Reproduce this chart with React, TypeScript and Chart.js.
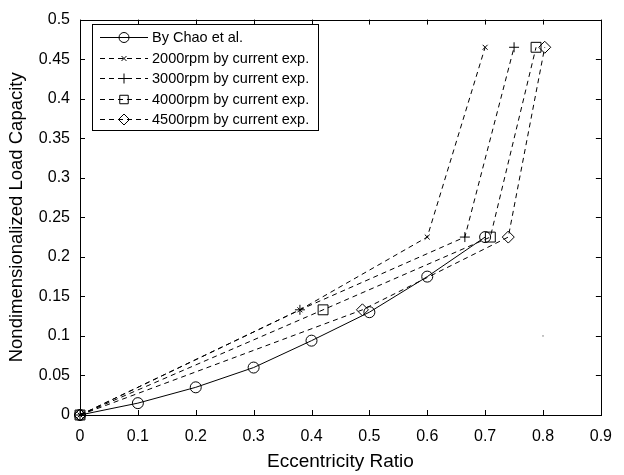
import React, { useEffect, useRef } from 'react';
import { Chart, registerables } from 'chart.js';
import { drawPoint } from 'chart.js/helpers';

Chart.register(...registerables);

const FONT = '"Liberation Sans", Arial, Helvetica, sans-serif';

const seriesLabels = [
  'By Chao et al.',
  '2000rpm by current exp.',
  '3000rpm by current exp.',
  '4000rpm by current exp.',
  '4500rpm by current exp.',
];

const chaoX = [0, 0.1, 0.2, 0.3, 0.4, 0.5, 0.6, 0.7];
const chaoY = [0, 0.015, 0.035, 0.06, 0.094, 0.13, 0.175, 0.225];

const rpm2000X = [0, 0.38, 0.6, 0.7];
const rpm2000Y = [0, 0.133, 0.225, 0.465];

const rpm3000X = [0, 0.38, 0.665, 0.75];
const rpm3000Y = [0, 0.133, 0.225, 0.465];

const rpm4000X = [0, 0.42, 0.709, 0.788];
const rpm4000Y = [0, 0.133, 0.225, 0.465];

const rpm4500X = [0, 0.488, 0.74, 0.803];
const rpm4500Y = [0, 0.133, 0.225, 0.465];

const strayX = [0.8];
const strayY = [0.1];

const xTickValues = [0, 0.1, 0.2, 0.3, 0.4, 0.5, 0.6, 0.7, 0.8, 0.9];
const yTickValues = [0, 0.05, 0.1, 0.15, 0.2, 0.25, 0.3, 0.35, 0.4, 0.45, 0.5];

const pts = (xs: number[], ys: number[]) => xs.map((x, i) => ({ x, y: ys[i] }));
const fmt = (v: number) => String(Number(Number(v).toFixed(2)));

const styles = [
  { pointStyle: 'circle', radius: 5.5, legendRadius: 5, dash: [] as number[] },
  { pointStyle: 'crossRot', radius: 3.5, legendRadius: 3.5, dash: [5, 4] },
  { pointStyle: 'cross', radius: 5, legendRadius: 5, dash: [5, 4] },
  { pointStyle: 'rect', radius: 7, legendRadius: 6, dash: [5, 4] },
  { pointStyle: 'rectRot', radius: 6, legendRadius: 5.5, dash: [5, 4] },
];

const framePlugin = {
  id: 'frameAndLegend',
  afterDraw(chart: any) {
    const { ctx, chartArea } = chart;
    const { left, right, top, bottom } = chartArea;
    const xs = chart.scales.x;
    const ys = chart.scales.y;
    ctx.save();
    ctx.strokeStyle = '#000';
    ctx.lineWidth = 1;
    ctx.setLineDash([]);
    ctx.strokeRect(Math.round(left) + 0.5, Math.round(top) + 0.5, Math.round(right - left), Math.round(bottom - top));
    const tl = 5;
    ctx.beginPath();
    xTickValues.forEach((v) => {
      const px = Math.round(xs.getPixelForValue(v)) + 0.5;
      ctx.moveTo(px, bottom);
      ctx.lineTo(px, bottom - tl);
      ctx.moveTo(px, top);
      ctx.lineTo(px, top + tl);
    });
    yTickValues.forEach((v) => {
      const py = Math.round(ys.getPixelForValue(v)) + 0.5;
      ctx.moveTo(left, py);
      ctx.lineTo(left + tl, py);
      ctx.moveTo(right, py);
      ctx.lineTo(right - tl, py);
    });
    ctx.stroke();

    const bx = 92.5, by = 24.5, bw = 226, bh = 106;
    ctx.fillStyle = '#fff';
    ctx.fillRect(bx, by, bw, bh);
    ctx.strokeRect(bx, by, bw, bh);
    ctx.font = `14.5px ${FONT}`;
    ctx.textBaseline = 'middle';
    ctx.textAlign = 'left';
    seriesLabels.forEach((label, i) => {
      const y = Math.round(37 + i * 20.5) + 0.5;
      const st = styles[i];
      ctx.setLineDash(st.dash);
      ctx.beginPath();
      ctx.moveTo(100, y);
      ctx.lineTo(148, y);
      ctx.stroke();
      ctx.setLineDash([]);
      ctx.fillStyle = 'rgba(0,0,0,0)';
      drawPoint(ctx, { pointStyle: st.pointStyle, radius: st.legendRadius, rotation: 0, borderWidth: 1 } as any, 124, y);
      ctx.fillStyle = '#000';
      ctx.fillText(label, 152, y + 0.5);
    });
    ctx.restore();
  },
};

export default function App() {
  const ref = useRef<HTMLCanvasElement | null>(null);
  useEffect(() => {
    if (!ref.current) return;
    const seriesX = [chaoX, rpm2000X, rpm3000X, rpm4000X, rpm4500X];
    const seriesY = [chaoY, rpm2000Y, rpm3000Y, rpm4000Y, rpm4500Y];
    const datasets: any[] = seriesLabels.map((label, i) => ({
      label,
      data: pts(seriesX[i], seriesY[i]),
      showLine: true,
      borderColor: '#000',
      backgroundColor: 'rgba(0,0,0,0)',
      borderWidth: 1,
      borderDash: styles[i].dash,
      pointStyle: styles[i].pointStyle,
      pointRadius: styles[i].radius,
      pointBorderColor: '#000',
      pointBackgroundColor: 'rgba(0,0,0,0)',
      pointBorderWidth: 1,
      tension: 0,
      clip: false,
    }));
    datasets.push({
      label: 'stray',
      data: pts(strayX, strayY),
      showLine: false,
      pointStyle: 'circle',
      pointRadius: 0.7,
      pointBorderWidth: 0,
      pointBackgroundColor: '#555',
      clip: false,
    });
    const chart = new Chart(ref.current, {
      type: 'scatter',
      data: { datasets },
      plugins: [framePlugin],
      options: {
        responsive: false,
        animation: false,
        devicePixelRatio: 1,
        layout: { padding: { top: 15, right: 14, left: 0, bottom: 0 } },
        plugins: { legend: { display: false }, tooltip: { enabled: false } },
        scales: {
          x: {
            type: 'linear',
            min: 0,
            max: 0.9,
            afterBuildTicks: (s: any) => {
              s.ticks = xTickValues.map((v) => ({ value: v }));
            },
            afterFit: (s: any) => {
              s.height = 60;
            },
            grid: { display: false, drawTicks: false },
            border: { display: false },
            ticks: {
              color: '#000',
              font: { size: 16, family: FONT },
              padding: 12,
              maxRotation: 0,
              autoSkip: false,
              callback: (v: any) => fmt(v),
            },
            title: {
              display: true,
              text: 'Eccentricity Ratio',
              color: '#000',
              font: { size: 19, family: FONT },
              padding: { top: 0, bottom: 2 },
            },
          },
          y: {
            type: 'linear',
            min: 0,
            max: 0.5,
            afterBuildTicks: (s: any) => {
              s.ticks = yTickValues.map((v) => ({ value: v }));
            },
            afterFit: (s: any) => {
              s.width = 80;
            },
            grid: { display: false, drawTicks: false },
            border: { display: false },
            ticks: {
              color: '#000',
              font: { size: 16, family: FONT },
              padding: 10,
              autoSkip: false,
              callback: (v: any) => fmt(v),
            },
            title: {
              display: true,
              text: 'Nondimensionalized Load Capacity',
              color: '#000',
              font: { size: 18.5, family: FONT },
              padding: { top: 6, bottom: 0 },
            },
          },
        },
      } as any,
    });
    return () => chart.destroy();
  }, []);
  return (
    <div style={{ position: 'absolute', left: 0, top: 0, width: 624, height: 475, background: '#fff' }}>
      <canvas ref={ref} width={624} height={475} style={{ display: 'block' }} />
    </div>
  );
}
